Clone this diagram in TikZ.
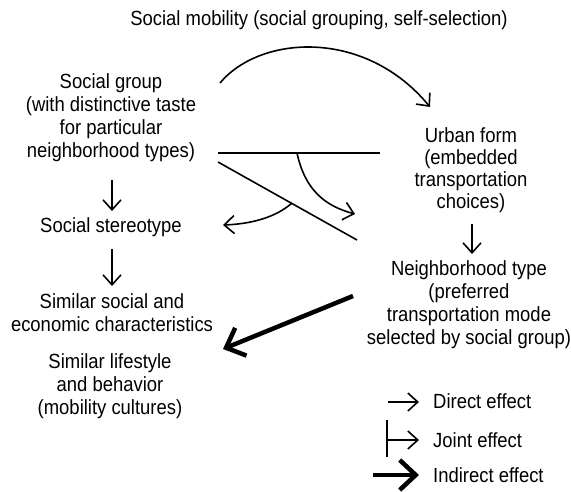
\documentclass[tikz,border=0pt]{standalone}
\usepackage{fontspec}
\setmainfont{Liberation Sans}[FakeStretch=0.9]
\usetikzlibrary{arrows.meta}
\begin{document}
\begin{tikzpicture}[x=1pt,y=-1pt,
  lbl/.style={font=\fontsize{20.5}{23}\selectfont, align=center, inner sep=0pt},
  rlbl/.style={font=\fontsize{20.5}{22}\selectfont, align=center, inner sep=0pt},
  leg/.style={font=\fontsize{20.5}{23}\selectfont, anchor=west, inner sep=0pt},
  plain/.style={line width=1.6pt},
  direct/.style={line width=1.6pt, -{Straight Barb[length=10pt,width=18pt]}},
  indirect/.style={line width=4.5pt, -{Straight Barb[length=16pt,width=30pt]}}]
\useasboundingbox (0,0) rectangle (571,491);
\fill[white] (0,0) rectangle (571,491);

% text nodes
\node[lbl] (title) at (319,20) {Social mobility (social grouping, self-selection)};
\node[lbl] (sg) at (111,118) {Social group\\(with distinctive taste\\for particular\\neighborhood types)};
\node[lbl] (ss) at (111,227) {Social stereotype};
\node[lbl] (sim) at (112,313) {Similar social and\\economic characteristics};
\node[lbl] (life) at (110,386) {Similar lifestyle\\and behavior\\(mobility cultures)};
\node[rlbl] (uf) at (471,170) {Urban form\\(embedded\\transportation\\choices)};
\node[lbl] (nt) at (469,305) {Neighborhood type\\(preferred\\transportation mode\\selected by social group)};

% connector end points
\coordinate (a1s) at (112,180); \coordinate (a1e) at (112,211);
\coordinate (a2s) at (112,249); \coordinate (a2e) at (112,286);
\coordinate (a3s) at (472,224); \coordinate (a3e) at (472,254);
\coordinate (arcS) at (220,83); \coordinate (arcE) at (430,107);
\coordinate (h1) at (218,153); \coordinate (h2) at (380,153);
\coordinate (d1) at (218,162); \coordinate (d2) at (357,240);
\coordinate (c1s) at (297,153); \coordinate (c1e) at (355,214);
\coordinate (c2s) at (292,203); \coordinate (c2e) at (223,225);
\coordinate (ts) at (353,296); \coordinate (te) at (223,349);

\draw[direct] (a1s) -- (a1e);
\draw[direct] (a2s) -- (a2e);
\draw[direct] (a3s) -- (a3e);
\draw[direct] (arcS) .. controls (260,35) and (365,28) .. (arcE);
\draw[plain] (h1) -- (h2);
\draw[plain] (d1) -- (d2);
\draw[direct] (c1s) .. controls (305,190) and (325,206) .. (c1e);
\draw[direct] (c2s) .. controls (275,218) and (250,224) .. (c2e);
\draw[indirect] (ts) -- (te);

% legend
\coordinate (l1s) at (388,402); \coordinate (l1e) at (419,402);
\coordinate (l2t) at (387,420); \coordinate (l2b) at (387,457);
\coordinate (l2s) at (387,440); \coordinate (l2e) at (419,440);
\coordinate (l3s) at (373,475); \coordinate (l3e) at (419,475);
\draw[direct] (l1s) -- (l1e);
\draw[plain] (l2t) -- (l2b);
\draw[direct] (l2s) -- (l2e);
\draw[indirect] (l3s) -- (l3e);
\node[leg] (ld) at (433,401) {Direct effect};
\node[leg] (lj) at (433,440) {Joint effect};
\node[leg] (li) at (433,475) {Indirect effect};
\end{tikzpicture}
\end{document}
